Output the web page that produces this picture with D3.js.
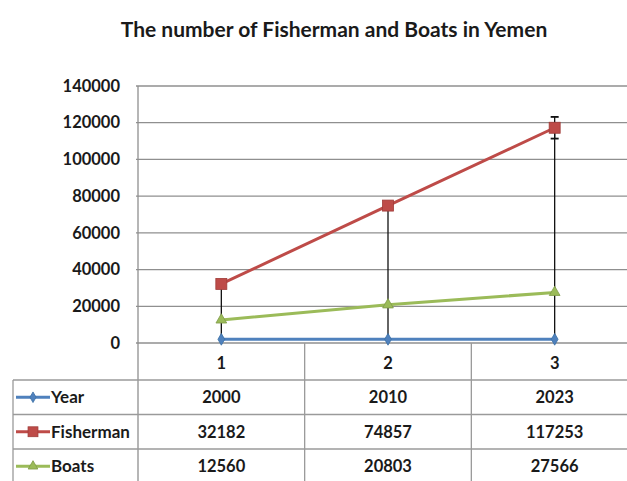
<!DOCTYPE html>
<html><head><meta charset="utf-8">
<script src="https://cdn.jsdelivr.net/npm/d3@7"></script>
<style>
html,body{margin:0;padding:0;background:#fff;}
svg{display:block;font-family:Lato,"Open Sans",sans-serif;}
</style></head>
<body>
<svg id="chart" width="627" height="481"></svg>
<script>
const title = "The number of Fisherman and Boats in Yemen";
const categories = ["1", "2", "3"];
const seriesNames = ["Year", "Fisherman", "Boats"];
const yearValues = [2000, 2010, 2023];
const fishermanValues = [32182, 74857, 117253];
const boatsValues = [12560, 20803, 27566];
const yTicks = [0, 20000, 40000, 60000, 80000, 100000, 120000, 140000];
const fishermanErrors = [0, 0, 5900];

const colors = {Year: "#4F81BD", Fisherman: "#BE4B48", Boats: "#9BBB59"};
const seriesValues = {Year: yearValues, Fisherman: fishermanValues, Boats: boatsValues};

const svg = d3.select("#chart");
const W = 627, H = 481;
const plot = {left: 138, right: 638, top: 86, bottom: 343};
const tableTop = 380, rowH = 34.5, tableLeft = 13;
const textColor = "#1a1a1a";

const x = d3.scaleBand().domain(categories).range([plot.left, plot.right]);
const y = d3.scaleLinear().domain([0, 140000]).range([plot.bottom, plot.top]);
const cx = c => x(c) + x.bandwidth() / 2;

// title
svg.append("text").attr("x", 334).attr("y", 37).attr("text-anchor", "middle")
  .attr("font-size", 21).attr("font-weight", "bold").attr("fill", textColor).text(title);

// gridlines
svg.append("g").selectAll("line").data(yTicks).join("line")
  .attr("x1", plot.left - 2).attr("x2", W).attr("y1", d => y(d)).attr("y2", d => y(d))
  .attr("stroke", "#8f8f8f").attr("stroke-width", 1.3);

// y axis labels
const yAxis = d3.axisLeft(y).tickValues(yTicks).tickSize(0).tickPadding(18).tickFormat(d3.format("d"));
const gy = svg.append("g").attr("transform", `translate(${plot.left},0)`).call(yAxis);
gy.select(".domain").remove();
gy.selectAll("text").attr("font-size", 16.5).attr("font-weight", "bold").attr("fill", textColor)
  .attr("font-family", "Lato, sans-serif");

// left axis line
svg.append("line").attr("x1", plot.left).attr("x2", plot.left).attr("y1", plot.top).attr("y2", H)
  .attr("stroke", "#8f8f8f").attr("stroke-width", 1.3);

// category dividers (below axis into table)
const dividers = categories.slice(1).map(c => x(c));
svg.append("g").selectAll("line").data(dividers).join("line")
  .attr("x1", d => d).attr("x2", d => d).attr("y1", plot.bottom).attr("y2", H)
  .attr("stroke", "#9a9a9a").attr("stroke-width", 1.3);

// x axis labels
const xAxis = d3.axisBottom(x).tickSize(0).tickPadding(14);
const gx = svg.append("g").attr("transform", `translate(0,${plot.bottom})`).call(xAxis);
gx.select(".domain").remove();
gx.selectAll("text").attr("font-size", 16.5).attr("font-weight", "bold").attr("fill", textColor)
  .attr("font-family", "Lato, sans-serif");

// table horizontal lines
const rowLines = d3.range(seriesNames.length + 1).map(i => tableTop + i * rowH);
svg.append("g").selectAll("line").data(rowLines).join("line")
  .attr("x1", tableLeft).attr("x2", W).attr("y1", d => d).attr("y2", d => d)
  .attr("stroke", "#9a9a9a").attr("stroke-width", 1.3);
svg.append("line").attr("x1", tableLeft).attr("x2", tableLeft).attr("y1", tableTop).attr("y2", H)
  .attr("stroke", "#9a9a9a").attr("stroke-width", 1.3);

// high-low lines
svg.append("g").selectAll("line").data(categories).join("line")
  .attr("x1", cx).attr("x2", cx)
  .attr("y1", (c, i) => y(d3.max(seriesNames, s => seriesValues[s][i])))
  .attr("y2", (c, i) => y(d3.min(seriesNames, s => seriesValues[s][i])))
  .attr("stroke", "#111").attr("stroke-width", 1.3);

// lines
const line = d3.line().x((d, i) => cx(categories[i])).y(d => y(d));
seriesNames.forEach(s => {
  svg.append("path").datum(seriesValues[s]).attr("d", line)
    .attr("fill", "none").attr("stroke", colors[s]).attr("stroke-width", 3);
});

// error bars on Fisherman
const eb = svg.append("g");
fishermanValues.forEach((v, i) => {
  const e = fishermanErrors[i], X = cx(categories[i]);
  if (!e) return;
  eb.append("line").attr("x1", X).attr("x2", X).attr("y1", y(v + e)).attr("y2", y(v - e))
    .attr("stroke", "#111").attr("stroke-width", 1.3);
  [v + e, v - e].forEach(t => eb.append("line").attr("x1", X - 4).attr("x2", X + 4)
    .attr("y1", y(t)).attr("y2", y(t)).attr("stroke", "#111").attr("stroke-width", 1.8));
});

// markers
function marker(g, s, X, Y, scale) {
  const k = scale || 1;
  if (s === "Year") {
    g.append("path").attr("d", d3.symbol(d3.symbolDiamond, 40 * k * k)()).attr("transform", `translate(${X},${Y})`)
      .attr("fill", colors[s]).attr("stroke", "#3a6ea5").attr("stroke-width", 0.8);
  } else if (s === "Fisherman") {
    g.append("rect").attr("x", X - 5.5 * k).attr("y", Y - 5.5 * k).attr("width", 11 * k).attr("height", 11 * k)
      .attr("fill", colors[s]).attr("stroke", "#a03c39").attr("stroke-width", 0.8);
  } else {
    g.append("path").attr("d", d3.symbol(d3.symbolTriangle, 50 * k * k)()).attr("transform", `translate(${X},${Y})`)
      .attr("fill", colors[s]).attr("stroke", "#7f9a48").attr("stroke-width", 0.8);
  }
}
const mk = svg.append("g");
seriesNames.forEach(s => seriesValues[s].forEach((v, i) => marker(mk, s, cx(categories[i]), y(v))));

// table content
seriesNames.forEach((s, r) => {
  const cy = tableTop + r * rowH + rowH / 2;
  svg.append("line").attr("x1", 16).attr("x2", 50).attr("y1", cy).attr("y2", cy)
    .attr("stroke", colors[s]).attr("stroke-width", 3);
  marker(svg, s, 33, cy, 0.9);
  svg.append("text").attr("x", 51).attr("y", cy).attr("dy", "0.35em")
    .attr("font-size", 17).attr("font-weight", "bold").attr("fill", textColor).text(s);
  seriesValues[s].forEach((v, i) => {
    svg.append("text").attr("x", cx(categories[i])).attr("y", cy).attr("dy", "0.35em")
      .attr("text-anchor", "middle").attr("font-size", 16.5).attr("font-weight", "bold")
      .attr("fill", textColor).text(v);
  });
});
</script>
</body></html>
